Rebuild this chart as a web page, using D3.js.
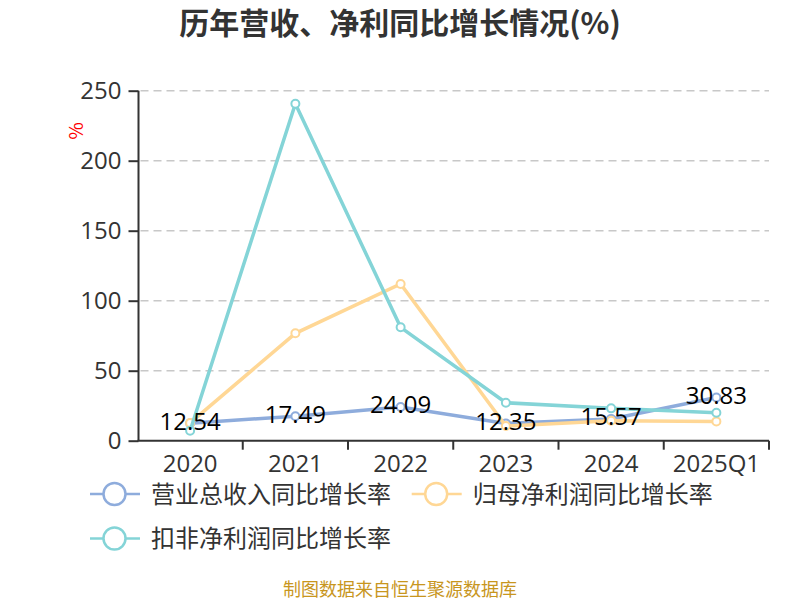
<!DOCTYPE html>
<html>
<head>
<meta charset="utf-8">
<script src="https://cdn.jsdelivr.net/npm/d3@7"></script>
<style>
  body { margin: 0; background: #fff; }
  svg { font-family: "Noto Sans CJK SC", "Open Sans", sans-serif; }
</style>
</head>
<body>
<div id="chart"></div>
<script>
// chart data
const categories = ["2020", "2021", "2022", "2023", "2024", "2025Q1"];
const revenueGrowth = [12.54, 17.49, 24.09, 12.35, 15.57, 30.83];
const netProfitGrowth = [12.7, 76.7, 111.9, 10.5, 14.3, 13.8];
const deductedProfitGrowth = [7.1, 240.7, 81.0, 27.1, 23.1, 20.0];
const seriesNames = ["营业总收入同比增长率", "归母净利润同比增长率", "扣非净利润同比增长率"];
const yTicks = [0, 50, 100, 150, 200, 250];

const colors = ["#8eacdc", "#ffd795", "#84d4d7"];
const width = 800, height = 600;
const margin = { top: 90.7, right: 31, bottom: 159.3, left: 138.5 };
const numFont = "'Open Sans', sans-serif";

const svg = d3.select("#chart").append("svg")
    .attr("width", width)
    .attr("height", height);

// title
svg.append("text")
    .attr("x", 400)
    .attr("y", 34)
    .attr("text-anchor", "middle")
    .attr("font-size", 30)
    .attr("font-weight", "bold")
    .attr("fill", "#333")
    .text("历年营收、净利同比增长情况(%)");

const x = d3.scaleBand()
    .domain(categories)
    .range([margin.left - 1, width - margin.right]);

const y = d3.scaleLinear()
    .domain([0, 250])
    .range([height - margin.bottom, margin.top]);

// grid lines
svg.append("g")
    .selectAll("line")
    .data(yTicks.filter(d => d > 0))
    .join("line")
    .attr("x1", margin.left + 2)
    .attr("x2", width - margin.right)
    .attr("y1", d => y(d))
    .attr("y2", d => y(d))
    .attr("stroke", "#c8c8c8")
    .attr("stroke-width", 1.5)
    .attr("stroke-dasharray", "8,5");

// y axis
const yAxis = svg.append("g")
    .attr("transform", `translate(${margin.left},0)`)
    .call(d3.axisLeft(y).tickValues(yTicks).tickSize(10).tickPadding(7));
yAxis.selectAll("text").attr("font-size", 24).attr("fill", "#333")
    .attr("font-family", numFont);
yAxis.selectAll("line, path").attr("stroke", "#333").attr("stroke-width", 2);
yAxis.select(".domain").attr("d", `M0,${y(250)}V${y(0)}`);

// x axis
const xAxis = svg.append("g")
    .attr("transform", `translate(0,${y(0)})`)
    .call(d3.axisBottom(x).tickSize(0).tickPadding(14));
xAxis.selectAll("text").attr("font-size", 24).attr("fill", "#333")
    .attr("font-family", numFont);
xAxis.select(".domain").attr("stroke", "#333").attr("stroke-width", 2)
    .attr("d", `M${margin.left - 1},0H${width - margin.right}`);
// band boundary ticks
xAxis.append("g")
    .selectAll("line")
    .data(categories.map(c => x(c)).concat([x.range()[1]]).slice(1))
    .join("line")
    .attr("x1", d => d).attr("x2", d => d)
    .attr("y1", 0).attr("y2", 9)
    .attr("stroke", "#333").attr("stroke-width", 2);

// unit label
svg.append("text")
    .attr("transform", `translate(76,131) rotate(-90)`)
    .attr("text-anchor", "middle")
    .attr("dy", "0.35em")
    .attr("font-size", 19)
    .attr("fill", "red")
    .text("%");

// series lines
const series = [revenueGrowth, netProfitGrowth, deductedProfitGrowth];
const cx = c => x(c) + x.bandwidth() / 2;
const line = d3.line()
    .x((d, i) => cx(categories[i]))
    .y(d => y(d));

series.forEach((vals, s) => {
    svg.append("path")
        .datum(vals)
        .attr("d", line)
        .attr("fill", "none")
        .attr("stroke", colors[s])
        .attr("stroke-width", 3.5);
    svg.append("g")
        .selectAll("circle")
        .data(vals)
        .join("circle")
        .attr("cx", (d, i) => cx(categories[i]))
        .attr("cy", d => y(d))
        .attr("r", 4)
        .attr("fill", "#fff")
        .attr("stroke", colors[s])
        .attr("stroke-width", 2);
});

// revenue labels
svg.append("g")
    .selectAll("text")
    .data(revenueGrowth)
    .join("text")
    .attr("x", (d, i) => cx(categories[i]))
    .attr("y", d => y(d) - 2)
    .attr("dy", "0.35em")
    .attr("text-anchor", "middle")
    .attr("font-size", 24)
    .attr("font-family", numFont)
    .attr("fill", "#000")
    .text(d => d.toFixed(2));

// legend
const legendPos = [[90, 494], [411.7, 494], [90, 538.5]];
seriesNames.forEach((name, s) => {
    const g = svg.append("g")
        .attr("transform", `translate(${legendPos[s][0]},${legendPos[s][1]})`);
    g.append("line")
        .attr("x1", 0).attr("x2", 50)
        .attr("stroke", colors[s]).attr("stroke-width", 2.5);
    g.append("circle")
        .attr("cx", 24.5).attr("r", 11)
        .attr("fill", "#fff")
        .attr("stroke", colors[s]).attr("stroke-width", 2.5);
    g.append("text")
        .attr("x", 61)
        .attr("dy", "0.36em")
        .attr("font-size", 24)
        .attr("fill", "#333")
        .text(name);
});

// footer
svg.append("text")
    .attr("x", 400)
    .attr("y", 596)
    .attr("text-anchor", "middle")
    .attr("font-size", 18)
    .attr("fill", "#c8961e")
    .text("制图数据来自恒生聚源数据库");
</script>
</body>
</html>
